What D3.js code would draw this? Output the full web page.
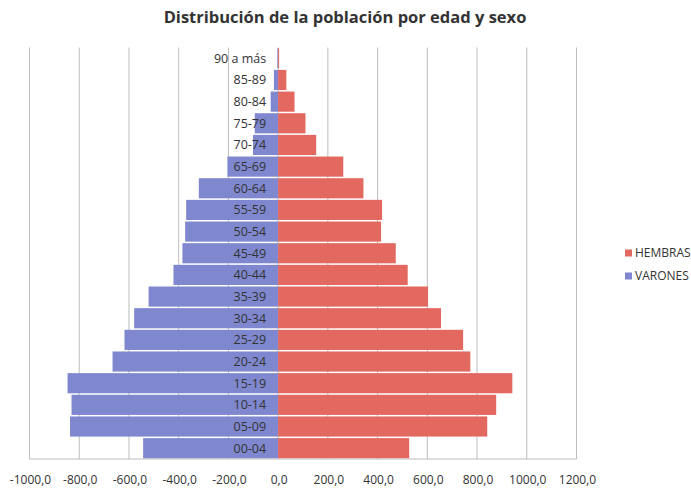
<!DOCTYPE html>
<html>
<head>
<meta charset="utf-8">
<script src="https://cdn.jsdelivr.net/npm/d3@7"></script>
<style>
  body { margin: 0; background: #fff; }
  text { font-family: "Open Sans", sans-serif; fill: #333; }
</style>
</head>
<body>
<div id="chart"></div>
<script>
const ageGroups = ["90 a más", "85-89", "80-84", "75-79", "70-74", "65-69", "60-64", "55-59",
  "50-54", "45-49", "40-44", "35-39", "30-34", "25-29", "20-24", "15-19", "10-14", "05-09", "00-04"];
const varones = [-3, -17, -30, -94, -101, -204, -319, -370, -374, -385, -421, -521, -579, -618, -666, -847, -831, -837, -543];
const hembras = [4, 33, 66, 110, 153, 262, 343, 418, 414, 473, 521, 603, 655, 744, 773, 942, 877, 841, 527];
const xTicks = [-1000, -800, -600, -400, -200, 0, 200, 400, 600, 800, 1000, 1200];
const seriesNames = ["HEMBRAS", "VARONES"];
const colors = { HEMBRAS: "#e3685f", VARONES: "#7f88cf" };

const width = 691, height = 488;
const margin = { top: 47.5, left: 29.5, right: 114.5, bottom: 29 };

const svg = d3.select("#chart").append("svg")
  .attr("width", width)
  .attr("height", height);

const x = d3.scaleLinear().domain([-1000, 1200]).range([margin.left, width - margin.right]);
const y = d3.scaleBand().domain(ageGroups).range([margin.top, height - margin.bottom]).paddingInner(0.07).paddingOuter(0.035);

// gridlines
svg.append("g")
  .selectAll("line")
  .data(xTicks)
  .enter().append("line")
  .attr("x1", d => x(d)).attr("x2", d => x(d))
  .attr("y1", margin.top).attr("y2", height - margin.bottom)
  .attr("stroke", "#bdbdbd")
  .attr("stroke-width", 1);

svg.append("line")
  .attr("x1", x(-1000)).attr("x2", x(1200))
  .attr("y1", height - margin.bottom).attr("y2", height - margin.bottom)
  .attr("stroke", "#bdbdbd");

// bars
svg.append("g").selectAll("rect")
  .data(ageGroups)
  .enter().append("rect")
  .attr("x", (d, i) => x(varones[i]))
  .attr("y", d => y(d))
  .attr("width", (d, i) => x(0) - x(varones[i]))
  .attr("height", y.bandwidth())
  .attr("fill", colors.VARONES);

svg.append("g").selectAll("rect")
  .data(ageGroups)
  .enter().append("rect")
  .attr("x", x(0))
  .attr("y", d => y(d))
  .attr("width", (d, i) => x(hembras[i]) - x(0))
  .attr("height", y.bandwidth())
  .attr("fill", colors.HEMBRAS);

// category labels
svg.append("g").selectAll("text")
  .data(ageGroups)
  .enter().append("text")
  .attr("x", x(0) - 12)
  .attr("y", d => y(d) + y.bandwidth() / 2)
  .attr("dy", "0.35em")
  .attr("text-anchor", "end")
  .attr("font-size", "12.5px")
  .text(d => d);

// x axis labels
const fmt = d => d.toFixed(1).replace(".", ",");
svg.append("g").selectAll("text")
  .data(xTicks)
  .enter().append("text")
  .attr("x", d => x(d) + 1)
  .attr("y", 480)
  .attr("dy", "0.35em")
  .attr("text-anchor", "middle")
  .attr("font-size", "12px")
  .text(fmt);

// title
svg.append("text")
  .attr("x", 345)
  .attr("y", 23)
  .attr("text-anchor", "middle")
  .attr("font-size", "16.5px")
  .attr("font-weight", "bold")
  .text("Distribución de la población por edad y sexo");

// legend
const legend = svg.append("g").attr("transform", "translate(625,253)");
seriesNames.forEach((name, i) => {
  const g = legend.append("g").attr("transform", `translate(0,${i * 23})`);
  g.append("rect").attr("x", 0).attr("y", -3.5).attr("width", 7).attr("height", 7).attr("fill", colors[name]);
  g.append("text").attr("x", 10).attr("y", 0).attr("dy", "0.35em").attr("font-size", "12px").text(name);
});
</script>
</body>
</html>
